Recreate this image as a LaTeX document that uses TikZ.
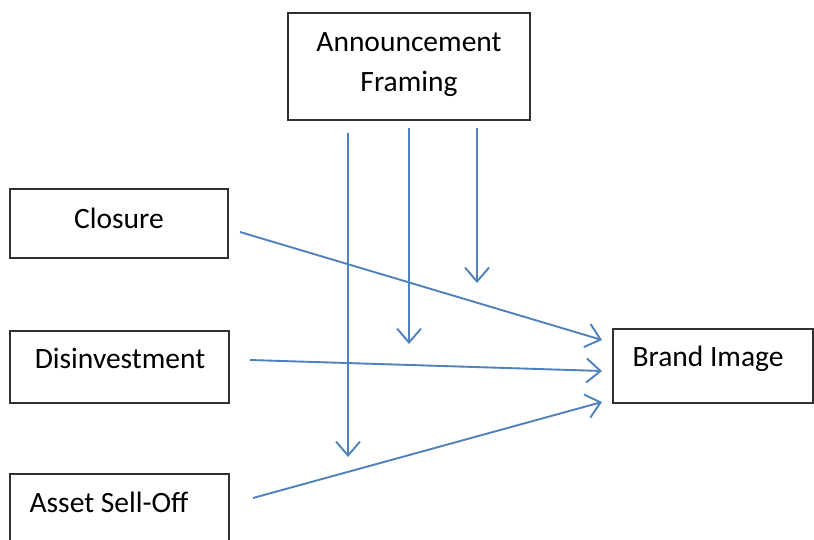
\documentclass[tikz,border=0pt]{standalone}
\usepackage{fontspec}
\setmainfont{Carlito}
\usetikzlibrary{arrows.meta}
\definecolor{linkblue}{HTML}{4F81BD}
\definecolor{boxline}{HTML}{303030}
\begin{document}
\begin{tikzpicture}[x=1pt,y=-1pt,
  box/.style={draw=boxline, line width=1.5pt, fill=white, inner sep=0pt,
    font=\fontsize{29.5}{40}\selectfont, align=center},
  lbl/.style={inner sep=0pt, font=\fontsize{29.5}{40}\selectfont},
  arr/.style={draw=linkblue, line width=1.9pt,
    -{Straight Barb[length=14pt,width=24pt,line width=1.9pt]}}]
\useasboundingbox (0,0) rectangle (814,540);
\fill[white] (0,0) rectangle (814,540);

% boxes
\node[box, minimum width=242pt, minimum height=107pt] (frame) at (409,66.5) {};
\node[lbl, align=center] (frametxt) at (409,65) {Announcement\\Framing};
\node[box, minimum width=218pt, minimum height=69pt] (closure) at (119,223.5) {};
\node[lbl] (closuretxt) at (119,218) {Closure};
\node[box, minimum width=219pt, minimum height=72pt] (disinv) at (119.5,367) {};
\node[lbl] (disinvtxt) at (120,358) {Disinvestment};
\node[box, minimum width=219pt, minimum height=100pt] (asset) at (119.5,524) {};
\node[lbl] (assettxt) at (109,502) {Asset Sell-Off};
\node[box, minimum width=200pt, minimum height=74pt] (brand) at (713,366) {};
\node[lbl] (brandtxt) at (708,359) {Brand Image};

% connector end points
\coordinate (c1) at (240,232);
\coordinate (d1) at (250,360);
\coordinate (a1) at (253,498);
\coordinate (b1) at (602,340);
\coordinate (b2) at (602,371);
\coordinate (b3) at (602,402);
\coordinate (v1s) at (348,133);
\coordinate (v1e) at (348,457);
\coordinate (v2s) at (409,128);
\coordinate (v2e) at (409,344);
\coordinate (v3s) at (477,128);
\coordinate (v3e) at (477,283);

% main paths
\draw[arr] (c1) -- (b1);
\draw[arr] (d1) -- (b2);
\draw[arr] (a1) -- (b3);

% moderating paths
\draw[arr] (v1s) -- (v1e);
\draw[arr] (v2s) -- (v2e);
\draw[arr] (v3s) -- (v3e);
\end{tikzpicture}
\end{document}
